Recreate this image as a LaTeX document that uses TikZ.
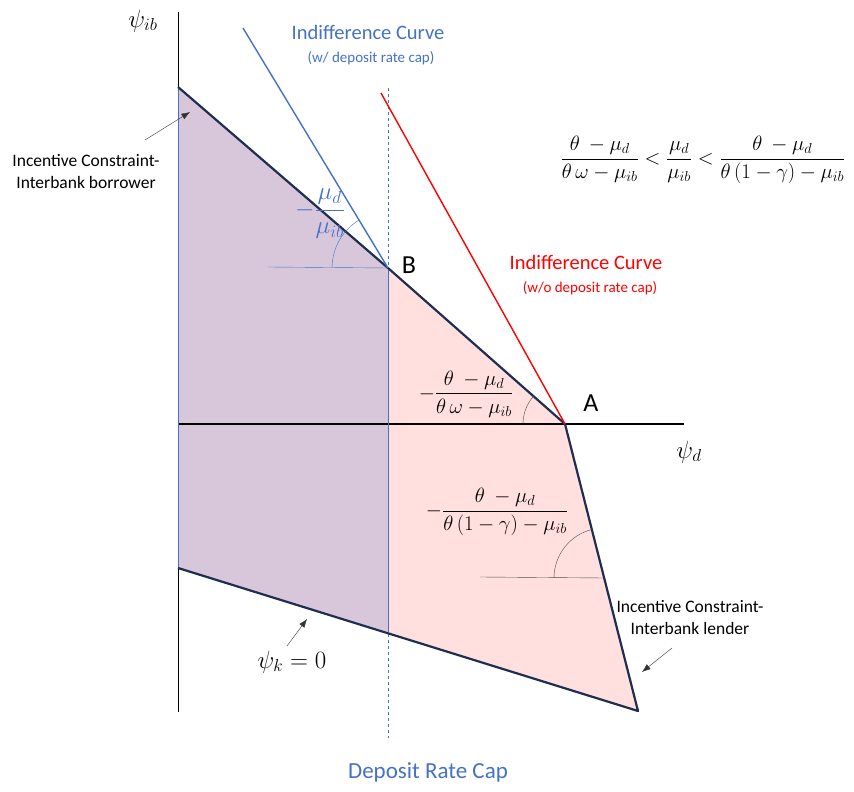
\documentclass[tikz,border=0pt]{standalone}
\usepackage{amsmath,amssymb}
\usepackage{fontspec}
\setmainfont{Carlito}
\usepackage{tikz}
\usetikzlibrary{arrows.meta,positioning,calc}
\definecolor{capblue}{HTML}{4472C4}
\definecolor{deepnavy}{HTML}{1F2E50}
\definecolor{lilac}{HTML}{D8C7DB}
\definecolor{blush}{HTML}{FFE0DE}

\begin{document}
\begin{tikzpicture}[x=1pt,y=1pt,
  lbl/.style={inner sep=1pt,font=\fontsize{20.5}{24}\selectfont},
  sub/.style={inner sep=1pt,font=\fontsize{15}{17}\selectfont},
  note/.style={inner sep=1pt,align=center,font=\fontsize{17.5}{22}\selectfont},
  axl/.style={inner sep=1pt,font=\fontsize{24}{28}\selectfont},
  mth/.style={inner sep=1pt,font=\fontsize{21}{25}\selectfont},
  bnd/.style={draw=deepnavy,line width=2.2pt,line join=round},
  ang/.style={draw=black!70,thin},
  pt/.style={-{Latex[length=3mm,width=2.2mm]},draw=black!80,thin}
]
\useasboundingbox (0,0) rectangle (854,792);
% corners of the feasible region
\coordinate (P) at (178,705);
\coordinate (B) at (388,524);
\coordinate (A) at (565,368);
\coordinate (C) at (638,81);
\coordinate (D) at (178,224);
\coordinate (E) at (388,160);
\coordinate (F) at (604,214);
% shaded areas
\fill[lilac] (P) -- (B) -- (E) -- (D) -- cycle;
\fill[blush] (B) -- (A) -- (C) -- (E) -- cycle;
% axes
\draw[black,thick] (178,780) -- (178,80);
\draw[black,line width=2pt] (178,368) -- (684,368);
\node[axl] (yl) at (143,771) {$\psi_{ib}$};
\node[axl] (xl) at (689,340) {$\psi_d$};
% deposit rate cap
\draw[capblue,thick,dashed] (388,704) -- (388,54);
\draw[capblue,thick] (D) -- (P);
\draw[capblue,thick] (B) -- (E);
% boundary
\draw[bnd] (P) -- (B) -- (A) -- (C) -- (D);
% indifference curves
\coordinate (ib) at (243,764);
\coordinate (ia) at (381,699);
\draw[capblue,line width=1.4pt] (ib) -- (B);
\draw[red,line width=1.4pt] (ia) -- (A);
% angles
\draw[capblue,thin] (268,525) -- (B);
\draw[capblue,thin] ($(B)+(180:56)$) arc[start angle=180,end angle=121,radius=56];
\draw[ang] ($(A)+(180:42)$) arc[start angle=180,end angle=138.6,radius=42];
\draw[ang] (480,215) -- (F);
\draw[ang] ($(F)+(180:50)$) arc[start angle=180,end angle=104,radius=50];
% labels
\node[lbl,text=capblue] (t1) at (368,760) {Indifference Curve};
\node[sub,text=capblue] (t2) at (371,734) {(w/ deposit rate cap)};
\node[lbl,text=red] (t3) at (586,530) {Indifference Curve};
\node[sub,text=red] (t4) at (590,504) {(w/o deposit rate cap)};
\node[font=\fontsize{26}{30}\selectfont] (nb) at (409,527) {B};
\node[font=\fontsize{26}{30}\selectfont] (na) at (591,389) {A};
\node[axl,text=capblue] (sb) at (320,578) {$-\dfrac{\mu_d}{\mu_{ib}}$};
\node[mth] (sa) at (466,398) {$-\dfrac{\theta\ -\mu_d}{\theta\,\omega-\mu_{ib}}$};
\node[mth] (sc) at (497,280) {$-\dfrac{\theta\ -\mu_d}{\theta\,(1-\gamma)-\mu_{ib}}$};
\node[mth,font=\fontsize{19.5}{24}\selectfont] (ineq) at (703,632) {$\dfrac{\theta\ -\mu_d}{\theta\,\omega-\mu_{ib}}<\dfrac{\mu_d}{\mu_{ib}}<\dfrac{\theta\ -\mu_d}{\theta\,(1-\gamma)-\mu_{ib}}$};
\node[note] (bor) at (86,620) {Incentive Constraint-\\Interbank borrower};
\node[note] (len) at (690,174) {Incentive Constraint-\\Interbank lender};
\node[axl] (pk) at (292,130) {$\psi_k=0$};
\node[font=\fontsize{23}{27}\selectfont,text=capblue] (cap) at (428,20) {Deposit Rate Cap};
% pointers
\draw[pt] (145,652) -- (190,680);
\draw[pt] (672,144) -- (642,120);
\draw[pt] (287,146) -- (307,173);
\end{tikzpicture}
\end{document}
